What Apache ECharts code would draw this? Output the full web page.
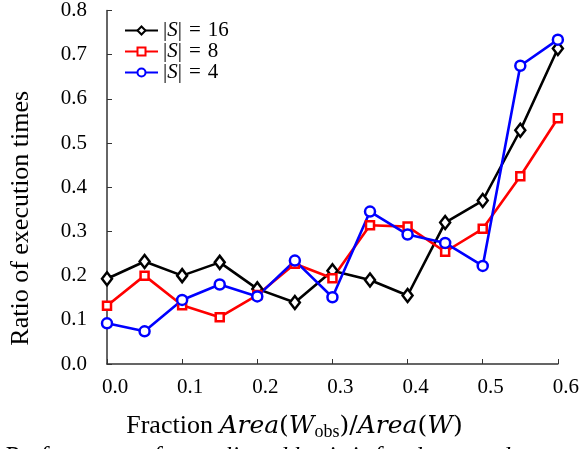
<!DOCTYPE html>
<html>
<head>
<meta charset="utf-8">
<script src="https://cdn.jsdelivr.net/npm/echarts@6/dist/echarts.min.js"></script>
<style>
    html, body { margin: 0; padding: 0; background: #fff; }
    #chart { width: 582px; height: 449px; }
</style>
</head>
<body>
<div id="chart"></div>
<script>
var fractions = [0.0, 0.05, 0.1, 0.15, 0.2, 0.25, 0.3, 0.35, 0.4, 0.45, 0.5, 0.55, 0.6];
var s16 = [0.193, 0.232, 0.200, 0.230, 0.170, 0.139, 0.211, 0.190, 0.155, 0.320, 0.370, 0.529, 0.714];
var s8 = [0.132, 0.200, 0.133, 0.106, 0.156, 0.227, 0.194, 0.314, 0.311, 0.254, 0.306, 0.425, 0.556];
var s4 = [0.092, 0.074, 0.145, 0.180, 0.153, 0.234, 0.151, 0.345, 0.293, 0.274, 0.222, 0.675, 0.734];
var seriesNames = ['|S| = 16', '|S| = 8', '|S| = 4'];
var legendLabels = ['16', '8', '4'];

var serif = 'Liberation Serif';
var mathFont = 'DejaVu Serif';

function pairs(values) {
    return fractions.map(function (x, i) { return [x, values[i]]; });
}

function makeSeries(name, values, color, symbol, size) {
    return {
        name: name,
        type: 'line',
        data: pairs(values),
        symbol: symbol,
        symbolSize: size,
        lineStyle: { color: color, width: 2.6 },
        itemStyle: { color: '#fff', borderColor: color, borderWidth: 2.5 },
        emphasis: { disabled: true },
        z: 3
    };
}

var chart = echarts.init(document.getElementById('chart'));
chart.setOption({
    animation: false,
    grid: { left: 107, right: 21, top: 6, bottom: 85 },
    legend: {
        orient: 'vertical',
        left: 119,
        top: 15,
        itemWidth: 33,
        itemHeight: 10,
        itemGap: 0,
        data: seriesNames,
        formatter: function (name) {
            var i = seriesNames.indexOf(name);
            return '|{i|S}|{e|=}' + legendLabels[i];
        },
        textStyle: {
            fontFamily: serif, fontSize: 21, color: '#000', lineHeight: 21,
            rich: {
                i: { fontFamily: serif, fontSize: 21, fontStyle: 'italic', color: '#000', lineHeight: 21 },
                e: { fontFamily: serif, fontSize: 21, color: '#000', lineHeight: 21, padding: [0, 7, 0, 7] }
            }
        }
    },
    xAxis: {
        type: 'value',
        min: 0,
        max: 0.6,
        interval: 0.1,
        name: 'Fraction {it|Area}{m|(}{it|W}{sub|obs}{m|)/}{it|Area}{m|(}{it|W}{m|)}',
        nameLocation: 'middle',
        nameGap: 47,
        nameTextStyle: {
            fontFamily: serif, fontSize: 26, color: '#000', lineHeight: 30,
            padding: [0, 76, 0, 0],
            rich: {
                it: { fontFamily: mathFont, fontSize: 25, fontStyle: 'italic', color: '#000', lineHeight: 30 },
                m: { fontFamily: mathFont, fontSize: 25, color: '#000', lineHeight: 30 },
                sub: { fontFamily: serif, fontSize: 18, color: '#000', lineHeight: 14, verticalAlign: 'bottom' }
            }
        },
        axisLine: { lineStyle: { color: '#333', width: 1.5 } },
        axisTick: { inside: true, length: 5, lineStyle: { color: '#333' } },
        splitLine: { show: false },
        axisLabel: {
            margin: 13,
            padding: [0, 0, 0, 16],
            fontFamily: serif, fontSize: 21, color: '#000',
            formatter: function (v) { return v.toFixed(1); }
        }
    },
    yAxis: {
        type: 'value',
        min: 0,
        max: 0.8,
        interval: 0.1,
        name: 'Ratio of execution times',
        nameLocation: 'middle',
        nameGap: 73,
        nameTextStyle: { fontFamily: serif, fontSize: 26, color: '#000', padding: [0, 62, 0, 0] },
        axisLine: { show: true, lineStyle: { color: '#333', width: 1.5 } },
        axisTick: { show: true, inside: true, length: 5, lineStyle: { color: '#333' } },
        splitLine: { show: false },
        axisLabel: {
            margin: 20,
            fontFamily: serif, fontSize: 21, color: '#000',
            formatter: function (v) { return v.toFixed(1); }
        }
    },
    graphic: [{
        type: 'text',
        left: 4,
        top: 445,
        style: {
            text: 'Performance of non-aligned basis is for dense and',
            font: 'italic 25px "Liberation Serif"',
            fill: '#000'
        }
    }],
    series: [
        makeSeries(seriesNames[0], s16, '#000000', 'diamond', [10, 13]),
        makeSeries(seriesNames[1], s8, '#ff0000', 'rect', 8),
        makeSeries(seriesNames[2], s4, '#0000ff', 'circle', 10)
    ]
});
</script>
</body>
</html>
